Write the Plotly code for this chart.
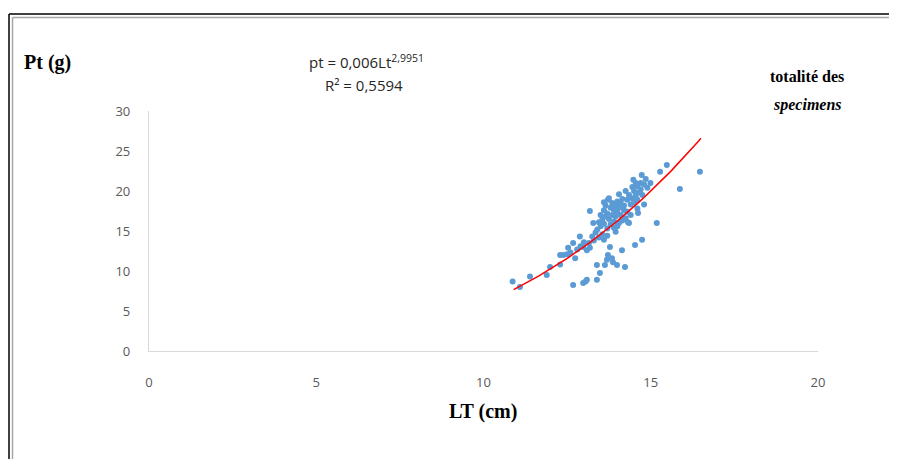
import numpy as np
import plotly.graph_objects as go

# Scatter data: total length LT (cm) and total weight Pt (g)
lt = [10.87, 11.09, 11.39, 11.89, 11.99, 12.29, 12.29, 12.39, 12.53, 12.68, 12.74, 12.88, 12.98, 13.09, 13.18,
      12.6, 12.8, 12.5, 13.0, 12.9,
      12.68, 12.98, 13.09, 13.39, 13.48, 13.39, 13.63, 13.69, 13.72, 13.84, 13.87, 13.99, 13.78, 14.14, 14.23,
      14.53, 14.74, 15.18, 15.87, 16.47, 13.05,
      15.48, 15.28, 14.73, 14.48, 14.99, 14.62, 14.32, 13.18, 13.28,
      13.4, 13.45, 13.5, 13.5, 13.55, 13.6, 13.6, 13.65, 13.65, 13.7, 13.7, 13.72, 13.75, 13.8, 13.8, 13.85,
      13.85, 13.9, 13.9, 13.95, 13.95, 14.0, 14.0, 14.05, 14.05, 14.1, 14.1, 14.15, 14.2, 14.2, 14.25, 14.3,
      14.3, 14.35, 14.4, 14.4, 14.45, 14.5, 14.5, 14.55, 14.6, 14.6, 14.65, 14.7, 14.7, 14.75, 14.8, 14.85,
      14.9, 14.55, 14.45, 13.35, 13.45, 13.55, 13.6, 13.7, 13.3, 13.25, 13.15, 13.9, 14.0, 13.95, 14.15,
      14.35, 14.6, 14.8, 13.75, 13.6, 14.05, 14.25]
pt = [8.7, 8.0, 9.3, 9.5, 10.5, 10.8, 12.0, 12.0, 12.9, 13.5, 11.6, 14.3, 13.0, 12.6, 12.9,
      12.3, 12.7, 12.1, 13.6, 13.1,
      8.25, 8.5, 8.9, 8.9, 9.75, 10.75, 10.75, 11.4, 12.0, 11.6, 11.1, 10.75, 13.0, 12.6, 10.5,
      13.25, 13.9, 16.0, 20.25, 22.4, 8.7,
      23.25, 22.4, 22.0, 21.4, 21.0, 17.25, 16.1, 17.5, 16.0,
      15.2, 16.1, 15.6, 17.0, 16.4, 15.9, 17.6, 16.8, 18.2, 15.3, 17.2, 18.9, 16.5, 17.9, 15.8, 17.0,
      18.5, 16.2, 17.6, 18.1, 16.8, 17.3, 18.7, 16.0, 17.9, 18.4, 17.0, 19.0, 17.6, 18.2, 16.6, 18.9,
      17.4, 19.5, 18.3, 17.0, 19.1, 18.6, 20.0, 19.4, 20.6, 18.9, 19.8, 21.0, 20.2, 19.5, 20.8, 21.5,
      20.4, 21.0, 20.5, 14.8, 14.2, 14.6, 13.9, 14.4, 13.8, 14.3, 13.5, 15.4, 15.6, 14.9, 16.3,
      16.0, 17.8, 18.3, 19.1, 18.6, 19.6, 20.0]

# Power trendline shown on the chart: pt = a * Lt^b
trend_a = 0.006
trend_b = 2.9951
trend_range = [10.9, 16.5]

x_ticks = [0, 5, 10, 15, 20]
y_ticks = [0, 5, 10, 15, 20, 25, 30]

tx = np.linspace(trend_range[0], trend_range[1], 60)
ty = trend_a * tx ** trend_b

# page offset of the figure (default body margin)
OFF = 8
WIN_W, WIN_H = 897, 459
W, H = WIN_W - OFF, WIN_H - OFF
# plot area in window pixels
L, R, T, B = 149, 818, 111, 351


def px(x):
    return (x - L) / (R - L)


def py(y):
    return (B - y) / (B - T)


fig = go.Figure()
fig.add_trace(go.Scatter(x=lt, y=pt, mode="markers",
                         marker=dict(color="#5B9BD5", size=6, line=dict(width=0)),
                         showlegend=False, hoverinfo="x+y"))
fig.add_trace(go.Scatter(x=tx, y=ty, mode="lines",
                         line=dict(color="#FF0000", width=1.5),
                         showlegend=False, hoverinfo="skip"))

tickfont = dict(family="Open Sans, sans-serif", size=13, color="#595959")
fig.update_xaxes(range=[0, 20], tickvals=x_ticks, showgrid=False, zeroline=False,
                 showline=True, linecolor="#D9D9D9", linewidth=1.3, ticks="",
                 tickfont=tickfont, ticklabelstandoff=19)
fig.update_yaxes(range=[0, 30], tickvals=y_ticks, showgrid=False, zeroline=False,
                 showline=True, linecolor="#D9D9D9", linewidth=1.3, ticks="",
                 tickfont=tickfont, ticklabelstandoff=15)

serif = "Liberation Serif, Times New Roman, serif"
sans = "Open Sans, sans-serif"
annotations = [
    dict(text="<b>Pt (g)</b>", x=px(22), y=py(62), xanchor="left", yanchor="middle",
         font=dict(family=serif, size=20, color="#000000")),
    dict(text="<b>LT (cm)</b>", x=px(483), y=py(411), xanchor="center", yanchor="middle",
         font=dict(family=serif, size=20, color="#000000")),
    dict(text="pt = 0,006Lt<sup>2,9951</sup>", x=px(366), y=py(61), xanchor="center", yanchor="middle",
         font=dict(family=sans, size=15, color="#262626")),
    dict(text="R² = 0,5594", x=px(364), y=py(85), xanchor="center", yanchor="middle",
         font=dict(family=sans, size=15, color="#262626")),
    dict(text="<b>totalité des</b>", x=px(807), y=py(76), xanchor="center", yanchor="middle",
         font=dict(family=serif, size=16, color="#000000")),
    dict(text="<b><i>specimens</i></b>", x=px(807), y=py(105), xanchor="center", yanchor="middle",
         font=dict(family=serif, size=16, color="#000000")),
]
for a in annotations:
    a.update(xref="paper", yref="paper", showarrow=False)

shapes = [
    dict(type="line", x0=px(9), x1=px(WIN_W + 5), y0=py(14), y1=py(14), line=dict(color="#000000", width=1.5)),
    dict(type="line", x0=px(9), x1=px(9), y0=py(14), y1=py(WIN_H + 5), line=dict(color="#000000", width=1.5)),
    dict(type="line", x0=px(12.5), x1=px(WIN_W + 5), y0=py(17.5), y1=py(17.5), line=dict(color="#A6A6A6", width=1.5)),
    dict(type="line", x0=px(12.5), x1=px(12.5), y0=py(17.5), y1=py(WIN_H + 5), line=dict(color="#A6A6A6", width=1.5)),
]
for s in shapes:
    s.update(xref="paper", yref="paper", layer="above")

fig.update_layout(width=W, height=H,
                  margin=dict(l=L - OFF, r=WIN_W - R, t=T - OFF, b=WIN_H - B),
                  paper_bgcolor="#FFFFFF", plot_bgcolor="#FFFFFF",
                  annotations=annotations, shapes=shapes, showlegend=False)

fig.write_html("out.html")
